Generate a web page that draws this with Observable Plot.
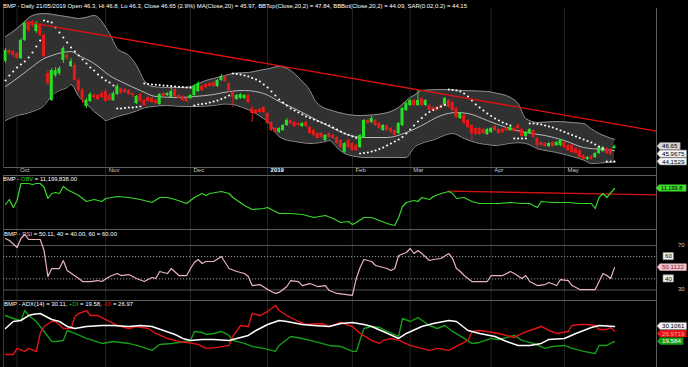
<!DOCTYPE html>
<html><head><meta charset="utf-8">
<script src="https://cdn.jsdelivr.net/npm/d3@7"></script>
<script src="https://cdn.jsdelivr.net/npm/@observablehq/plot@0.6"></script>
<style>
html,body{margin:0;padding:0;background:#000;}
#wrap{position:relative;width:688px;height:367px;background:#000;overflow:hidden;}
#wrap svg{position:absolute;left:0;}
</style></head><body><div id="wrap"></div>
<script>
// ---------- DATA ----------
const monthIdx = [3, 26, 48, 68, 90, 105, 126, 145];
const monthLabels = ["Oct", "Nov", "Dec", "2019", "Feb", "Mar", "Apr", "May"];

const open = [60.83,62.67,62.5,62.17,61.33,64.33,67.17,67.5,65.83,66.83,65.17,58.83,54.33,58.5,58.83,61.0,61.83,60.0,60.17,57.67,56.0,53.33,54.17,55.17,55.17,55.5,55.83,55.17,54.33,55.33,56.33,56.17,56.0,55.5,53.83,55.33,54.33,54.83,54.67,54.33,53.67,55.5,55.17,54.83,56.17,55.17,55.0,54.67,54.67,55.17,55.83,56.67,57.0,57.17,57.33,56.67,57.67,58.33,57.17,55.67,54.5,54.67,54.67,55.17,53.0,52.67,52.83,53.17,52.17,50.67,49.67,49.0,49.33,50.17,51.0,50.67,50.5,50.0,50.67,49.83,49.33,48.83,48.83,47.67,48.83,48.5,48.17,47.67,45.67,47.67,47.17,46.83,46.5,48.17,51.0,50.67,51.0,50.5,49.33,50.17,49.67,49.33,48.83,50.17,52.67,53.5,54.33,53.5,54.67,53.5,53.5,53.17,53.17,53.5,53.5,54.33,54.0,53.0,51.33,51.83,51.0,50.17,49.67,49.67,49.5,48.67,49.0,50.0,49.5,49.5,49.67,49.33,49.67,50.17,49.5,48.33,48.83,49.33,48.0,47.33,47.17,46.67,47.33,46.83,46.83,47.33,46.83,46.83,46.33,46.0,45.17,44.5,45.0,44.83,45.5,45.83,46.33,46.17,46.3];
const high = [63.0,62.83,62.67,62.33,64.67,67.5,67.5,67.67,67.5,67.17,65.5,59.33,59.67,59.83,60.0,63.33,62.17,61.33,60.5,58.0,56.33,54.67,55.67,55.5,55.33,55.83,56.17,55.5,55.83,57.0,56.5,56.33,56.17,55.67,55.17,55.5,54.5,55.0,54.83,54.5,55.5,55.67,55.67,56.33,56.33,55.33,55.17,54.83,55.33,57.0,57.5,56.83,57.17,57.33,57.5,57.83,58.67,58.5,57.33,55.83,55.33,55.5,55.33,55.33,53.33,52.83,53.0,53.33,52.33,50.83,49.83,49.83,50.33,51.33,51.17,50.83,50.67,50.67,50.83,50.0,49.5,49.0,49.0,48.67,49.0,48.67,48.33,47.83,47.33,47.83,47.33,47.0,48.67,51.17,51.17,51.67,51.17,50.67,50.33,50.33,49.83,49.5,50.67,53.17,54.0,54.5,54.5,56.0,54.83,54.5,53.67,53.33,53.33,53.67,54.83,54.5,54.17,53.17,52.33,52.0,51.17,50.33,49.83,49.83,49.67,49.67,49.83,50.17,49.67,49.67,49.83,50.0,49.83,50.33,49.67,49.17,49.67,49.5,48.17,47.5,47.33,47.33,47.5,47.5,47.83,47.5,47.0,47.0,46.5,46.17,45.33,45.0,45.17,45.67,46.67,46.67,46.5,46.33,46.8];
const low = [60.5,61.83,61.5,61.17,61.17,64.17,65.67,66.5,65.5,65.0,61.33,56.83,54.17,58.17,58.5,60.5,61.0,59.83,57.5,55.67,53.83,53.0,54.0,54.5,54.33,54.67,54.0,54.17,54.17,55.17,55.33,55.5,55.17,54.83,53.67,54.0,53.33,54.0,53.83,53.67,53.5,54.83,55.0,54.67,54.83,54.5,54.17,54.0,54.5,55.0,55.67,55.83,56.33,56.5,56.5,56.5,57.5,57.33,55.67,53.17,54.33,54.5,54.5,53.83,50.67,52.0,52.17,52.17,50.33,49.17,48.83,48.83,49.17,50.0,50.33,49.83,50.0,49.83,49.83,48.67,48.33,47.83,48.0,47.5,48.0,47.83,47.0,46.33,45.5,46.33,45.83,45.83,46.33,48.0,50.33,50.5,50.0,49.5,49.17,49.17,48.83,48.33,48.67,50.0,52.5,53.33,53.33,53.33,53.33,53.33,52.5,52.5,52.5,52.83,53.33,53.0,52.5,51.33,51.17,50.33,49.67,47.67,48.5,48.5,48.67,48.5,48.83,49.17,48.67,48.83,49.17,49.17,49.0,49.5,48.17,48.17,48.67,48.0,46.0,46.67,46.5,46.5,46.5,46.67,46.67,46.33,45.83,45.5,45.33,44.67,44.33,44.33,44.33,44.67,45.33,45.67,45.33,45.17,46.3];
const close = [62.67,62.17,61.83,61.33,64.33,67.17,66.0,66.83,67.17,65.17,61.67,57.17,59.33,59.33,59.67,63.0,61.33,60.83,57.67,56.0,54.67,54.33,55.33,54.83,54.5,54.83,54.17,54.33,55.5,56.67,55.5,55.67,55.33,55.17,55.0,54.17,53.5,54.17,54.0,53.83,55.33,55.0,55.5,55.83,55.0,54.67,54.33,54.17,55.17,56.67,57.17,56.0,56.5,56.67,56.67,57.67,58.33,57.5,56.0,54.83,55.17,55.33,55.17,54.0,52.17,52.17,52.33,52.33,50.5,49.33,49.0,49.67,50.17,51.0,50.5,50.0,50.17,50.5,50.0,48.83,48.5,48.0,48.17,48.5,48.17,48.0,47.17,46.5,47.17,46.5,46.0,46.0,48.5,51.0,50.5,51.33,50.17,49.67,50.17,49.33,49.0,48.5,50.5,53.0,53.83,54.33,53.5,54.33,53.5,54.33,52.67,52.67,52.67,53.0,54.67,53.17,52.67,51.5,52.17,50.5,49.83,48.83,48.67,48.67,48.83,49.5,49.67,49.33,48.83,49.0,49.33,49.83,49.17,49.67,48.33,49.0,49.5,48.17,46.83,46.83,46.67,47.17,46.67,47.33,47.67,46.5,46.0,45.67,45.5,44.83,44.5,44.83,44.5,45.5,46.5,46.5,45.5,45.33,46.65];

const sar = [57.67,58.5,59.17,59.83,60.33,60.83,61.5,62.33,63.33,64.33,67.67,67.5,67.33,66.5,65.67,64.83,64.0,63.17,62.5,61.83,61.17,60.5,59.83,59.33,58.67,58.17,57.67,57.33,56.83,53.0,53.0,53.08,53.17,53.17,53.25,53.33,57.17,57.08,57.0,56.95,56.9,56.83,56.78,56.73,56.67,56.62,56.57,56.5,56.45,53.5,53.67,53.75,53.83,54.0,54.17,54.33,54.58,54.83,55.17,58.83,58.75,58.67,58.5,58.33,58.08,57.83,57.5,57.0,56.5,55.83,55.17,54.5,54.0,53.5,53.0,52.67,52.33,52.0,51.67,51.42,51.17,50.92,50.67,50.42,50.17,49.83,49.5,49.17,48.83,48.58,48.33,48.08,45.5,45.58,45.67,45.83,46.0,46.25,46.5,46.83,47.17,47.5,47.83,48.25,48.83,49.5,50.17,50.83,51.42,52.0,52.42,52.75,53.08,53.33,53.58,56.17,56.08,56.0,55.83,55.5,55.0,54.33,53.67,53.17,52.67,52.17,51.75,51.33,51.0,50.67,50.42,50.17,48.0,48.0,48.0,48.0,50.5,50.5,50.42,50.33,50.17,50.0,49.83,49.58,49.33,49.08,48.83,48.58,48.33,48.08,47.83,47.58,47.33,47.0,46.67,46.33,44.17,44.17,44.15];

const bandDay = [0,3,5,7,10,12,14,16,17,19,21,23,25,26,27,29,32,34,36,38,42,46,49,52,54,57,59,60,63,64,67,68,71,74,75,77,79,80,83,84,86,88,92,93,98,100,102,104,105,106,108,112,113,116,119,123,125,127,131,133,135,138,143,148,150,152,154,156,158];
const bbUpper = [65.0,66.33,67.5,68.5,68.83,68.7,68.5,68.3,68.2,68.0,68.2,68.5,67.5,66.5,65.5,63.0,61.83,60.17,57.67,56.67,56.5,56.5,56.83,57.67,58.0,58.5,58.83,58.9,59.0,59.1,59.5,59.6,60.0,59.33,58.8,57.5,56.0,54.67,53.0,52.8,52.4,52.1,51.83,51.85,52.17,52.5,53.17,54.3,54.83,55.2,56.0,56.15,56.17,56.1,56.0,55.9,55.83,55.6,54.83,53.83,51.33,50.67,50.83,50.6,50.5,49.6,48.83,48.3,47.84];
const bbLower = [51.0,51.83,52.1,52.5,53.5,55.17,56.0,56.5,57.0,55.0,53.8,52.5,51.5,51.0,51.2,51.67,52.17,52.6,53.1,53.33,53.5,53.33,53.33,53.4,53.5,53.75,53.7,53.5,52.8,52.5,51.3,50.83,48.33,47.6,47.5,47.3,47.17,47.2,47.5,47.67,46.5,45.5,44.9,44.83,44.83,44.83,44.83,44.83,45.6,46.5,47.2,48.0,48.3,48.83,48.0,47.17,47.0,46.83,47.2,47.3,47.17,46.33,45.67,44.83,44.4,43.83,43.9,44.0,44.09];

const maDay = [0,4,7,10,12,17,19,23,27,31,35,39,45,49,54,58,62,67,71,76,80,84,88,93,99,104,108,113,117,120,125,130,135,140,145,150,155,158];
const maVal = [56.67,58.5,60.0,61.33,61.83,62.5,61.83,60.5,58.5,57.17,56.0,55.0,54.83,55.0,55.33,55.83,56.0,55.5,54.17,52.67,51.33,50.0,48.83,48.17,48.17,49.0,50.17,51.83,52.33,52.17,51.0,49.83,49.0,48.5,47.67,46.5,46.17,45.97];

const trendDay = [5.2, 168.9];
const trendVal = [67.45, 49.23];

const obvDay = [0,1,2,3,4,6,7,8,9,10,11,12,13,14,15,16,19,21,23,25,26,29,32,35,38,40,42,44,47,49,51,52,53,56,58,59,62,64,67,68,71,74,77,80,83,85,87,89,90,91,93,95,97,99,101,102,103,104,106,107,108,110,111,113,115,116,117,119,121,123,126,128,131,134,136,138,139,142,146,149,152,153,154,155,156,158];
const obvVal = [9600,10100,9300,10000,11700,11700,11600,11700,11700,11330,10200,10700,10800,10700,11400,11100,10500,9900,10100,9900,10200,10400,10300,10100,9800,10300,10300,10100,9700,10300,10700,10500,10700,10900,10700,10300,9500,9100,9200,9300,8700,8700,8600,8300,8500,8200,7800,7900,7600,7800,8300,8300,8000,7700,7500,8300,9400,9800,10000,9900,10300,10100,10400,10700,10900,10700,10200,10300,9900,9700,9700,9700,9800,9700,9700,9300,9900,9800,9800,9700,9700,9200,10300,10700,10300,11199.838]; // thousands
const obvTrendDay = [115, 168.9];
const obvTrendVal = [10930, 10570];

const rsiDay = [0,1,3,4,5,6,7,9,10,11,12,14,15,16,19,20,22,24,25,27,29,30,32,34,36,38,39,40,42,43,45,47,48,49,50,51,52,54,56,57,58,60,62,63,64,66,68,70,71,73,74,76,77,79,81,83,84,86,88,90,91,92,93,95,96,97,99,100,101,102,104,105,106,107,108,110,111,113,115,116,117,118,119,121,123,125,126,128,129,131,132,134,135,136,138,140,141,143,144,146,147,149,151,153,154,155,156,157,158];
const rsiVal = [76.3,74.5,68.2,76.3,79.9,75.4,75.4,75.4,65.5,42.1,49.3,49.3,56.5,47.5,40.3,37.6,37.6,38.5,37.6,42.1,44.8,43.0,43.9,40.3,37.6,41.2,40.3,46.6,44.8,49.3,43.0,43.0,49.3,54.7,57.4,53.8,55.6,55.6,60.1,54.7,49.3,46.6,44.8,42.1,34.0,34.9,30.4,26.9,27.8,33.1,38.5,37.6,34.0,35.8,33.1,34.0,29.5,26.9,26.0,25.1,40.3,50.2,57.4,55.6,52.0,51.1,49.3,47.5,49.3,61.0,63.7,67.3,62.8,65.5,62.8,56.5,57.4,58.3,62.8,58.3,49.3,46.6,43.0,37.6,37.6,37.6,43.0,43.0,43.0,46.6,44.8,40.3,43.0,37.6,34.0,34.9,36.7,34.0,39.4,38.5,34.0,30.4,30.4,30.4,37.6,44.8,43.0,40.3,50.11];
const rsiLevels = [30, 40, 60, 70];

const adxDay = [0,2,4,6,7,9,11,12,14,16,18,21,25,28,32,35,38,41,44,46,48,51,54,58,60,63,65,68,71,73,77,80,84,87,90,93,95,98,102,104,108,111,115,117,120,123,127,130,133,136,139,141,145,148,152,154,158];
const adxVal = [28.7,33.6,34.3,37.8,38.5,39.2,36.4,35.0,33.6,30.1,28.7,30.1,30.8,30.8,30.1,30.8,30.1,27.3,24.5,21.7,20.3,21.0,21.0,20.3,21.7,23.8,27.3,31.5,34.3,33.6,31.5,30.8,30.1,32.2,32.9,31.5,30.1,26.6,21.7,25.2,30.1,32.2,34.3,33.6,27.3,25.2,23.1,19.6,16.8,16.8,18.2,21.0,21.7,25.2,29.4,30.8,30.11];
const mdiDay = [0,2,3,5,6,8,9,10,12,13,15,17,18,19,21,22,24,26,29,32,34,37,39,42,45,47,50,52,55,58,59,61,63,64,66,68,70,71,73,76,78,82,84,87,90,92,95,97,98,100,102,105,108,110,112,115,117,120,121,123,125,128,130,132,134,136,139,141,143,146,147,149,151,153,154,156,157,158];
const mdiVal = [10.4,10.4,14.7,12.6,14.7,12.6,25.2,30.1,33.6,33.6,28.7,28.7,37.1,39.2,41.3,37.8,37.8,35.0,30.8,28.7,30.1,28.7,25.2,21.7,19.6,18.9,17.5,14.7,15.4,16.8,23.1,30.8,30.1,39.2,37.8,40.6,44.8,41.3,37.8,33.6,31.5,32.2,30.1,32.9,30.1,25.2,20.3,18.2,20.3,21.7,20.3,16.8,14.7,13.3,14.7,13.3,16.1,20.3,26.6,27.3,26.6,25.2,23.8,22.4,25.2,27.3,30.1,27.3,25.2,26.6,30.8,31.5,31.5,30.8,28.0,28.0,29.4,26.97];
const pdiDay = [0,2,4,5,6,8,10,12,13,15,16,18,21,25,28,32,35,38,40,43,45,48,49,51,52,54,56,58,59,62,64,67,70,71,74,77,79,82,84,87,90,91,93,95,97,99,102,103,105,107,110,112,114,116,119,121,123,126,128,131,132,134,137,140,142,145,147,150,153,154,156,158];
const pdiVal = [37.8,35.7,34.3,41.3,37.8,33.6,26.6,19.6,19.6,20.3,27.3,25.2,21.7,18.2,19.6,18.2,16.1,13.3,17.5,18.2,18.9,20.3,26.6,25.9,24.5,25.2,26.6,23.8,20.3,18.2,16.1,14.7,12.6,16.8,23.1,21.7,20.3,18.2,16.8,16.1,12.6,12.6,28.7,30.1,29.4,26.6,23.1,35.7,33.6,36.4,30.8,28.7,30.8,26.6,21.7,18.2,18.9,21.7,21.0,23.1,23.8,20.3,18.2,14.7,16.1,16.8,14.7,12.6,11.1,16.8,16.8,19.58];

const priceTags = [46.65, 45.9675, 44.1529];
const rsiTag = 50.1122;
const adxTags = [30.1061, 26.9719, 19.584];

// ---------- STYLE ----------
const UP = "#25e025", DN = "#e31b1b", GRID = "#262626", FRAME = "#5c5c5c";
const RSI_COL = "#ecb3bd";
const FONT = "Liberation Sans, Arial, sans-serif";
const xDom = [-0.52, 168.9];
const wrap = document.getElementById("wrap");

const zip = (xs, ys) => xs.map((x, k) => ({x, y: ys[k]}));
const frameMarks = (top) => [
  Plot.ruleX(monthIdx, {stroke: GRID}),
  Plot.frame({anchor: "right", stroke: FRAME}),
  Plot.frame({anchor: "left", stroke: "#3a3a3a"}),
  top ? Plot.frame({anchor: "top", stroke: FRAME}) : null
];
function place(chart, top) {
  chart.style.position = "absolute";
  chart.style.top = top + "px";
  chart.style.left = "0px";
  wrap.appendChild(chart);
  return chart;
}
const base = {width: 688, marginLeft: 3, marginRight: 32,
  style: {background: "transparent", overflow: "visible", fontFamily: FONT}};

// ---------- PRICE ----------
const candles = close.map((c, i) => ({i, o: open[i], h: high[i], l: low[i], c, up: c >= open[i]}));
const band = bandDay.map((d, k) => ({d, u: bbUpper[k], l: bbLower[k]}));
const months = monthIdx.map((d, k) => ({d, s: monthLabels[k]}));

const price = place(Plot.plot({
  ...base, height: 175, marginTop: 8, marginBottom: 8,
  x: {domain: xDom, axis: null},
  y: {domain: [43.17, 69.67], axis: null},
  marks: [
    Plot.ruleX(monthIdx, {stroke: GRID, insetBottom: -8}),
    Plot.areaY(band, {x: "d", y1: "l", y2: "u", fill: "#313131", curve: "monotone-x"}),
    Plot.line(band, {x: "d", y: "u", stroke: "#8e8e8e", strokeWidth: 1, curve: "monotone-x"}),
    Plot.line(band, {x: "d", y: "l", stroke: "#8e8e8e", strokeWidth: 1, curve: "monotone-x"}),
    Plot.line(zip(maDay, maVal), {x: "x", y: "y", stroke: "#b8b8b8", strokeWidth: 1, curve: "monotone-x"}),
    Plot.ruleX(candles, {x: "i", y1: "l", y2: "h", stroke: d => d.up ? UP : DN, strokeWidth: 1}),
    Plot.rect(candles, {x1: d => d.i - 0.39, x2: d => d.i + 0.39, y1: "o", y2: "c", fill: d => d.up ? UP : DN}),
    Plot.dot(sar.map((v, i) => ({i, v})), {x: "i", y: "v", r: 1.05, fill: "#ffffff", stroke: "none"}),
    Plot.line(zip(trendDay, trendVal), {x: "x", y: "y", stroke: "#e01010", strokeWidth: 1.4}),
    Plot.frame({anchor: "bottom", stroke: FRAME}),
    Plot.frame({anchor: "right", stroke: FRAME}),
    Plot.frame({anchor: "left", stroke: "#3a3a3a"}),
    Plot.text(months.filter(m => m.s !== "2019"), {x: "d", text: "s", frameAnchor: "bottom", dy: 4.5, dx: 3, textAnchor: "start", fill: "#c8c8c8", fontSize: 6}),
    Plot.text(months.filter(m => m.s === "2019"), {x: "d", text: "s", frameAnchor: "bottom", dy: 4.5, dx: 3, textAnchor: "start", fill: "#ffffff", fontSize: 6, fontWeight: "bold"})
  ]
}), 0);

// ---------- OBV ----------
const obv = place(Plot.plot({
  ...base, height: 54, marginTop: 0, marginBottom: 0,
  x: {domain: xDom, axis: null},
  y: {domain: [7100, 12500], axis: null},
  marks: [
    ...frameMarks(true),
    Plot.ruleX([xDom[1]], {stroke: FRAME, insetTop: -8}),
    Plot.line(zip(obvTrendDay, obvTrendVal), {x: "x", y: "y", stroke: "#d01010", strokeWidth: 1.3}),
    Plot.line(zip(obvDay, obvVal), {x: "x", y: "y", stroke: "#38d82a", strokeWidth: 1.2})
  ]
}), 175);

// ---------- RSI ----------
const rsi = place(Plot.plot({
  ...base, height: 71, marginTop: 0, marginBottom: 0,
  x: {domain: xDom, axis: null},
  y: {domain: [20.56, 84.38], axis: null},
  marks: [
    ...frameMarks(true),
    Plot.ruleY(rsiLevels.filter(v => v === 30 || v === 70), {stroke: "#555"}),
    Plot.ruleY(rsiLevels.filter(v => v === 40 || v === 60), {stroke: "#9a9a9a", strokeDasharray: "1.2,1.8"}),
    Plot.line(zip(rsiDay, rsiVal), {x: "x", y: "y", stroke: RSI_COL, strokeWidth: 1.2})
  ]
}), 229);

// ---------- ADX ----------
const adx = place(Plot.plot({
  ...base, height: 67, marginTop: 0, marginBottom: 0,
  x: {domain: xDom, axis: null},
  y: {domain: [1.31, 48.34], axis: null},
  marks: [
    ...frameMarks(true),
    Plot.line(zip(pdiDay, pdiVal), {x: "x", y: "y", stroke: "#169c16", strokeWidth: 1.4}),
    Plot.line(zip(mdiDay, mdiVal), {x: "x", y: "y", stroke: "#e21414", strokeWidth: 1.4}),
    Plot.line(zip(adxDay, adxVal), {x: "x", y: "y", stroke: "#ffffff", strokeWidth: 1.5})
  ]
}), 300);

// ---------- OVERLAY TEXT ----------
const ov = d3.select(wrap).append("svg").attr("width", 688).attr("height", 367)
  .style("position", "absolute").style("top", "0px").style("left", "0px")
  .attr("font-family", FONT);

function rich(x, y, parts, len) {
  const t = ov.append("text").attr("x", x).attr("y", y).attr("font-size", 6);
  parts.forEach(([s, c]) => t.append("tspan").attr("fill", c).text(s));
  if (len) t.attr("textLength", len).attr("lengthAdjust", "spacingAndGlyphs");
}
const n = close.length - 1;
const chg = ((close[n] / 45.34 - 1) * 100).toFixed(1);
rich(3, 7.6, [[`BMP - Daily 21/05/2019 Open ${open[n]}, Hi ${high[n]}, Lo ${low[n]}, Close ${close[n]} (${chg}%) MA(Close,20) = ${maVal[maVal.length-1]}, BBTop(Close,20,2) = ${bbUpper[bbUpper.length-1]}, BBBot(Close,20,2) = ${bbLower[bbLower.length-1]}, SAR(0.02,0.2) = ${sar[n]}`, "#ffffff"]], 464);
rich(3, 181.3, [["BMP - ", "#fff"], ["OBV", "#38d82a"], [" = " + d3.format(",.2f")(obvVal[obvVal.length-1] * 1000), "#fff"]], 74);
rich(4, 235.6, [["BMP - ", "#fff"], ["RSI", RSI_COL], [` = ${rsiVal[rsiVal.length-1]}, 40 = 40.00, 60 = 60.00`, "#fff"]], 113);
rich(4, 306.2, [["BMP - ADX(14) = " + adxVal[adxVal.length-1] + ", ", "#fff"], ["+DI", "#1fb81f"], [" = " + pdiVal[pdiVal.length-1] + ", ", "#fff"], ["-DI", "#e21414"], [" = " + mdiVal[mdiVal.length-1], "#fff"]], 129);

function tag(y, text, bg, fg, stroke, arrow = true, x0 = 657, fs = 6.2) {
  const w = text.length * fs * 0.52 + 4;
  const xa = arrow ? x0 + 3 : x0;
  const d = arrow
    ? `M${x0},${y} L${xa},${y - 3.6} L${xa + w},${y - 3.6} L${xa + w},${y + 3.6} L${xa},${y + 3.6} Z`
    : `M${xa},${y - 3.6} L${xa + w},${y - 3.6} L${xa + w},${y + 3.6} L${xa},${y + 3.6} Z`;
  ov.append("path").attr("d", d).attr("fill", bg).attr("stroke", stroke || "none").attr("stroke-width", 0.7);
  ov.append("text").attr("x", xa + 2).attr("y", y + 2.2).attr("font-size", fs).attr("fill", fg).text(text);
}
function stack(ys, gap) {
  const out = [];
  ys.forEach((y, k) => out.push(k && y < out[k - 1] + gap ? out[k - 1] + gap : y));
  return out;
}
const py = stack(priceTags.map(v => price.scale("y").apply(v)), 7.6);
priceTags.forEach((v, k) => tag(py[k], String(v), k === 0 ? "#d8d8d8" : "#f4f4f4", "#000", "#888"));
tag(175 + obv.scale("y").apply(obvVal[obvVal.length-1]), d3.format(",.1f")(obvVal[obvVal.length-1]), "#3ddc2c", "#000", null, true, 656, 5.6);
const ry = (v) => 229 + rsi.scale("y").apply(v);
ov.append("text").attr("x", 678).attr("y", ry(70) + 2).attr("font-size", 6).attr("fill", "#ccc").text("70");
ov.append("text").attr("x", 678).attr("y", ry(30) + 2).attr("font-size", 6).attr("fill", "#ccc").text("30");
tag(ry(60), "60", "#f4f4f4", "#000", "#888", false, 663);
tag(ry(40), "40", "#f4f4f4", "#000", "#888", false, 663);
tag(ry(rsiTag), String(rsiTag), "#f3c3cb", "#8a1a2a", null);
const ay = stack(adxTags.map(v => 300 + adx.scale("y").apply(v)), 7.6);
tag(ay[0], String(adxTags[0]), "#f4f4f4", "#000", "#888");
tag(ay[1], String(adxTags[1]), "#e21414", "#ff9a9a", null);
tag(ay[2], String(adxTags[2]), "#169c16", "#ffffff", null);
</script></body></html>
